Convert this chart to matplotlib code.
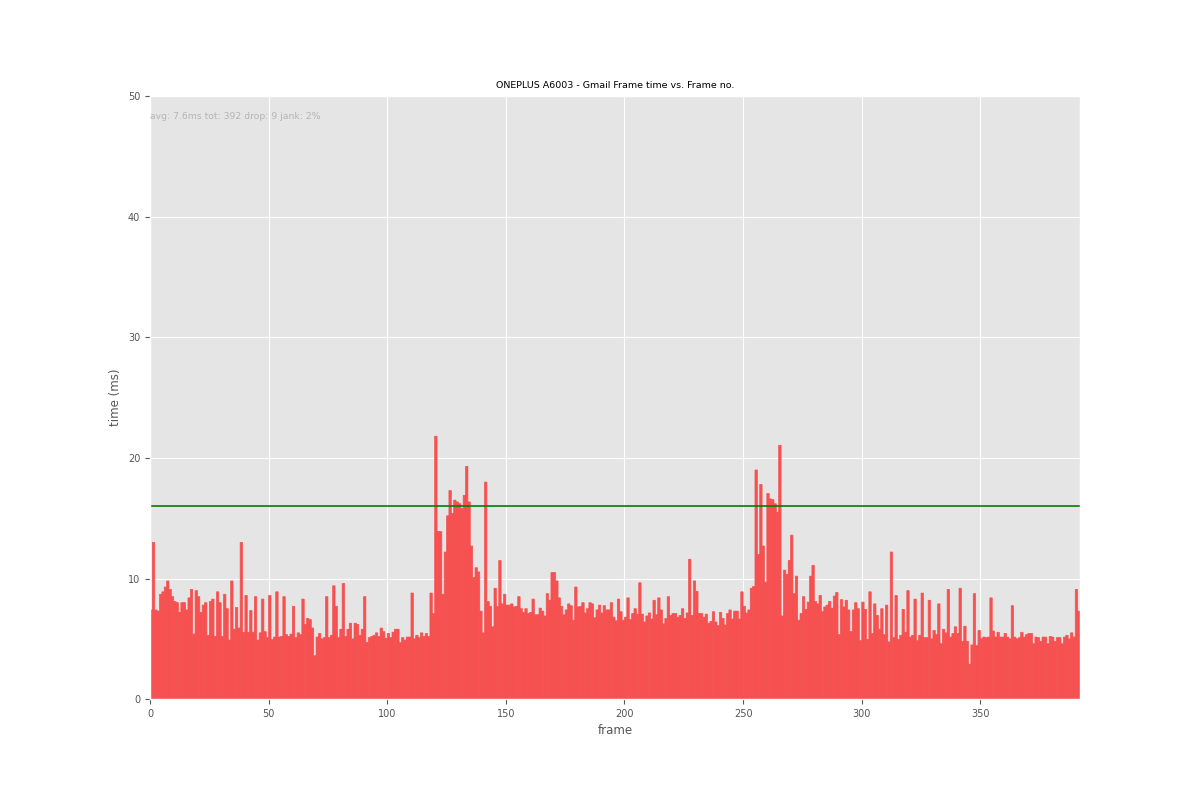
import matplotlib
matplotlib.use("Agg")
import matplotlib.pyplot as plt

plt.style.use("ggplot")

# frame times (ms), one per frame
seg_a = [7.4, 13.0, 7.4, 7.3, 8.7, 8.9, 9.3, 9.8, 9.1, 8.5, 8.1, 8.0, 7.2, 8.0, 8.0, 7.4, 8.4, 9.1, 5.4, 9.0,
         8.5, 7.2, 7.8, 8.0, 5.3, 8.1, 8.3, 5.2, 8.9, 8.0, 5.2, 8.7, 7.5, 4.9, 9.8, 5.8, 7.6, 5.9]
seg_b = [13.0, 5.55, 8.6, 5.55, 7.35, 5.55, 8.5, 4.9, 5.5, 8.3, 5.6, 5.1, 8.6, 4.95, 5.15, 8.9, 5.15, 5.2, 8.5, 5.35,
         5.2, 5.4, 7.7, 5.1, 5.5, 5.35, 8.3, 6.2, 6.7, 6.6, 5.9, 3.6, 5.15, 5.45, 5.0, 5.1, 8.5, 5.1, 5.3]
seg_c = [9.4, 7.7, 5.1, 5.8, 9.6, 5.2, 5.8, 6.3, 5.0, 6.3, 6.2, 5.3, 5.8, 8.5, 4.7, 5.1, 5.2, 5.3, 5.5, 5.2,
         5.9, 5.6, 5.05, 5.45, 5.1, 5.55, 5.8, 5.8, 4.7, 5.1, 4.9, 5.15, 5.15, 8.8, 5.0, 5.3, 5.1, 5.5, 5.2]
seg_d = [5.45, 5.2, 8.8, 7.1, 21.8, 13.9, 13.9, 8.7, 12.2, 15.2, 17.3, 15.4, 16.5, 16.35, 16.2, 15.8, 16.9, 19.3,
         16.35, 12.7, 10.1, 10.9, 10.55, 7.3, 5.5, 18.0, 8.1, 7.7, 6.0, 9.2, 7.7, 11.5, 7.9, 8.7, 7.8, 7.8, 7.9,
         7.65, 7.7]
seg_e = [8.5, 7.5, 7.2, 7.5, 7.1, 7.2, 8.3, 7.0, 7.0, 7.55, 7.3, 6.9, 8.75, 8.2, 10.5, 10.5, 9.8, 8.4, 7.7, 7.0,
         7.4, 7.9, 7.75, 6.55, 9.3, 7.65, 7.7, 8.0, 7.15, 7.5, 8.0, 7.9, 6.75, 7.4, 7.8, 7.15, 7.75, 7.4, 7.4, 8.0]
seg_f = [6.8, 6.5, 8.3, 7.25, 6.55, 6.8, 8.4, 6.6, 7.1, 7.5, 7.05, 9.65, 7.05, 6.4, 6.9, 7.15, 6.65, 8.2, 7.0,
         8.4, 7.4, 6.25, 6.7, 8.5, 6.95, 7.1, 7.1, 6.8, 6.95, 7.5, 6.7, 7.15, 11.6, 6.95, 9.8, 8.95, 7.1]
seg_g = [7.1, 6.8, 7.05, 6.3, 6.45, 7.25, 6.4, 6.1, 7.2, 6.7, 6.15, 7.1, 7.4, 6.65, 7.3, 7.3, 6.65, 8.9, 7.7,
         7.15, 7.4, 9.2, 9.35, 19.0, 12.0, 17.8, 12.7, 9.7, 17.05, 16.6, 16.55, 16.2, 15.5, 21.05, 6.9, 10.7,
         10.35, 11.5, 13.6, 8.75, 10.2]
seg_h = [6.55, 7.1, 8.5, 7.45, 8.05, 10.2, 11.1, 8.1, 7.9, 8.6, 7.25, 7.65, 7.8, 8.1, 7.55, 8.55, 8.85, 5.35,
         8.25, 7.65, 8.2, 7.4, 5.6, 7.4, 8.0, 7.5, 4.85, 8.05, 7.45, 4.95, 8.9, 5.45, 7.9, 6.95, 5.8, 7.5, 5.35,
         7.8, 4.75]
seg_i = [12.2, 5.1, 8.6, 4.95, 5.3, 7.45, 5.55, 9.0, 5.15, 5.3, 8.3, 4.85, 5.3, 8.8, 5.1, 5.1, 8.2, 5.0, 5.7,
         5.35, 7.9, 4.6, 5.8, 5.5, 9.1, 5.15, 5.45, 6.0, 5.45, 9.2, 4.8, 6.05, 4.8, 2.9, 4.5, 8.75, 4.45]
seg_j = [5.7, 5.0, 5.15, 5.1, 5.15, 8.4, 5.65, 5.15, 5.55, 5.15, 5.15, 5.45, 5.15, 5.0, 7.75, 5.15, 5.0, 5.1,
         5.55, 5.15, 5.35, 5.45, 5.45, 4.6, 5.15, 5.1, 4.8, 5.15, 5.15, 4.6, 5.2, 5.15, 4.8, 5.1, 5.1, 4.6, 5.15,
         5.3, 5.0, 5.5, 5.15, 9.1, 7.3]

frame_times = seg_a + seg_b + seg_c + seg_d + seg_e + seg_f + seg_g + seg_h + seg_i + seg_j
frames = list(range(len(frame_times)))

jank_limit = 16
title = "ONEPLUS A6003 - Gmail Frame time vs. Frame no."
stats = "avg: 7.6ms tot: 392 drop: 9 jank: 2%"

fig, ax = plt.subplots(figsize=(12, 8), dpi=100)
fig.subplots_adjust(left=0.125, right=0.9, top=0.88, bottom=0.126)

# red at 65% over the grey panel; a thin same-colour edge hides the seams
bar_color = "#f65050"
ax.bar(frames, frame_times, width=1, align="edge", color=bar_color,
       edgecolor=bar_color, linewidth=0.5, snap=False)
ax.axhline(jank_limit, color="green", linewidth=1.2)

ax.set_xlim(0, len(frame_times))
ax.set_ylim(0, 50)
ax.set_title(title, fontsize=6.8)
ax.set_xlabel("frame", fontsize=8.5)
ax.set_ylabel("time (ms)", fontsize=8.5)
ax.tick_params(labelsize=7)
ax.text(0, 48.3, stats, color="#b5b5b5", fontsize=6.7, va="center")

plt.savefig("out.png")
